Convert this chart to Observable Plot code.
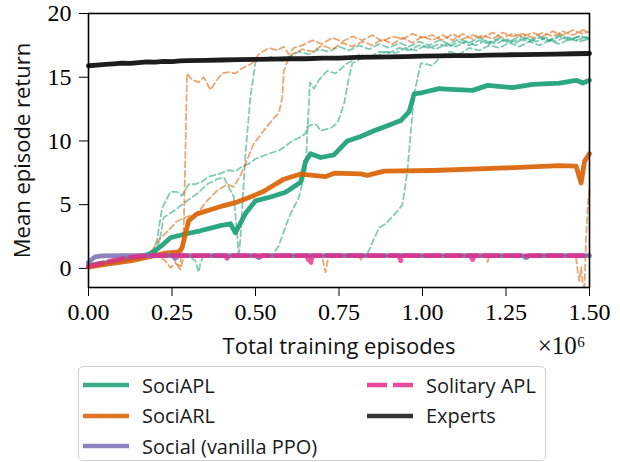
<!DOCTYPE html>
<html><head><meta charset="utf-8">
<script src="https://cdn.jsdelivr.net/npm/d3@7"></script>
<script src="https://cdn.jsdelivr.net/npm/@observablehq/plot@0.6"></script>
<style>
body{margin:0;background:#fff}
#wrap{position:relative;width:620px;height:462px;overflow:hidden;background:#fff}
#legend{position:absolute;left:78px;top:366px;width:466px;height:93px;border:1.5px solid #d2d2d2;border-radius:5px;background:#fff;font-family:"Open Sans",Lato,sans-serif;font-size:20px;color:#1a1a1a}
.item{position:absolute;height:24px;display:flex;align-items:center;white-space:nowrap}
.item span{margin-left:13px}
</style></head>
<body><div id="wrap"><div id="chart"></div><div id="legend"></div></div>
<script>
// ---- data (x in millions of episodes, y = mean episode return) ----
const xTicks = [0, 0.25, 0.5, 0.75, 1.0, 1.25, 1.5];
const yTicks = [0, 5, 10, 15, 20];
const seriesNames = ["SociAPL", "SociARL", "Social (vanilla PPO)", "Solitary APL", "Experts"];

const experts = [[0,15.9],[0.025,15.95],[0.05,16.0],[0.075,16.05],[0.1,16.1],[0.125,16.08],[0.15,16.15],[0.175,16.2],[0.2,16.18],[0.225,16.25],[0.25,16.22],[0.275,16.28],[0.3,16.3],[0.35,16.32],[0.4,16.35],[0.45,16.38],[0.5,16.4],[0.55,16.42],[0.6,16.45],[0.65,16.45],[0.7,16.5],[0.75,16.5],[0.8,16.55],[0.85,16.58],[0.9,16.6],[0.95,16.62],[1.0,16.65],[1.05,16.68],[1.1,16.7],[1.15,16.7],[1.2,16.74],[1.25,16.76],[1.3,16.78],[1.35,16.8],[1.4,16.82],[1.45,16.84],[1.5,16.86]];

const sociAPL = [[0,0.2],[0.03,0.35],[0.08,0.55],[0.12,0.75],[0.15,0.9],[0.18,1.1],[0.2,1.4],[0.22,1.8],[0.245,2.4],[0.29,2.7],[0.335,2.95],[0.395,3.35],[0.425,3.5],[0.44,2.8],[0.47,4.3],[0.5,5.3],[0.545,5.6],[0.59,5.97],[0.635,6.76],[0.65,8.4],[0.665,9.0],[0.695,8.7],[0.735,8.9],[0.775,10.0],[0.815,10.35],[0.855,10.8],[0.895,11.2],[0.935,11.6],[0.96,12.3],[0.975,13.7],[1.0,13.8],[1.05,14.1],[1.085,14.05],[1.15,13.97],[1.195,14.36],[1.27,14.18],[1.33,14.44],[1.41,14.54],[1.46,14.76],[1.48,14.54],[1.5,14.76]];

const sociARL = [[0,0.1],[0.06,0.35],[0.13,0.6],[0.19,0.95],[0.23,1.2],[0.27,1.3],[0.28,1.6],[0.3,3.75],[0.325,4.28],[0.365,4.6],[0.405,4.93],[0.445,5.2],[0.485,5.6],[0.525,6.05],[0.585,7.0],[0.635,7.4],[0.71,7.2],[0.735,7.47],[0.815,7.42],[0.835,7.3],[0.885,7.63],[1.03,7.68],[1.23,7.86],[1.41,8.07],[1.46,8.02],[1.475,6.7],[1.485,8.4],[1.5,9.0]];

const socialPPO = [[0,0.45],[0.01,0.7],[0.02,0.9],[0.04,0.98],[0.1,1.0],[0.25,1.0],[0.26,0.8],[0.27,1.0],[0.5,1.0],[0.51,0.85],[0.52,1.0],[1.3,1.0],[1.31,0.85],[1.32,1.0],[1.5,1.0]];

const solitaryAPL = [[0,0.15],[0.03,0.35],[0.06,0.55],[0.09,0.7],[0.12,0.85],[0.15,0.95],[0.18,1.0],[0.41,1.0],[0.415,0.8],[0.42,1.0],[0.655,1.0],[0.66,0.5],[0.665,0.35],[0.67,1.0],[0.93,1.0],[0.935,0.6],[0.94,1.0],[1.145,1.0],[1.15,0.7],[1.155,1.0],[1.5,1.0]];

// individual seeds (thin dashed)
const arlSeedA = [[0,0.1],[0.05,0.3],[0.1,0.55],[0.15,0.8],[0.2,1.1],[0.23,0.6],[0.245,0.05],[0.26,0.4],[0.275,0.2],[0.285,3],[0.29,9],[0.295,15.3],[0.31,14.8],[0.33,14.6],[0.345,15.0],[0.365,14.0],[0.385,14.8],[0.4,15.3],[0.42,15.4],[0.44,15.3],[0.46,15.7],[0.49,16.1],[0.51,16.8],[0.54,17.3],[0.565,17.1],[0.585,17.4],[0.6,16.8],[0.615,17.3],[0.64,17.5],[0.67,17.9],[0.7,17.6],[0.73,18.1],[0.76,17.8],[0.79,18.2],[0.82,17.9],[0.85,18.3],[0.88,17.8],[0.91,18.2],[0.94,18.0],[0.97,18.4],[1.0,18.1],[1.03,18.3],[1.06,17.9],[1.09,18.4],[1.12,18.0],[1.15,18.3],[1.18,18.1],[1.21,18.5],[1.24,18.1],[1.27,18.4],[1.3,18.2],[1.33,18.5],[1.36,18.2],[1.39,18.6],[1.42,18.3],[1.45,18.7],[1.48,18.4],[1.5,18.6]];
const arlSeedB = [[0,0.2],[0.05,0.35],[0.1,0.6],[0.15,0.85],[0.18,1.0],[0.21,2.2],[0.24,3.0],[0.265,3.7],[0.29,4.0],[0.325,4.3],[0.355,5.3],[0.385,6.1],[0.415,6.6],[0.435,6.4],[0.455,7.3],[0.47,8.2],[0.495,9.8],[0.525,10.8],[0.555,11.8],[0.57,12.2],[0.58,13.4],[0.585,15.5],[0.595,16.2],[0.61,16.8],[0.64,17.2],[0.67,17.0],[0.7,17.5],[0.73,17.2],[0.76,17.7],[0.79,17.4],[0.82,17.8],[0.85,17.5],[0.88,18.0],[0.91,17.6],[0.94,18.1],[0.97,17.7],[1.0,18.2],[1.03,17.9],[1.06,18.3],[1.09,17.9],[1.12,18.4],[1.15,18.0],[1.18,18.3],[1.21,18.0],[1.24,18.5],[1.27,18.2],[1.3,18.4],[1.33,18.1],[1.36,18.5],[1.39,18.2],[1.42,18.6],[1.45,18.3],[1.48,18.7],[1.5,18.5]];
const arlSeedC = [[0,0.1],[0.05,0.3],[0.1,0.55],[0.15,0.8],[0.2,0.95],[0.25,1.0],[0.265,0.3],[0.275,-0.1],[0.285,0.9],[0.3,1.0],[0.7,1.0],[0.705,0.2],[0.71,-0.3],[0.715,0.5],[0.72,1.0],[0.81,1.0],[0.815,0.6],[0.82,1.0],[1.19,1.0],[1.195,0.5],[1.2,1.0],[1.45,1.0],[1.46,0.8],[1.465,-0.3],[1.47,-1.0],[1.475,0.1],[1.48,-1.3],[1.485,-1.5],[1.49,2.5],[1.495,5.0],[1.5,6.2]];
const arlSeedD = [[0,0.1],[0.05,0.3],[0.1,0.55],[0.15,0.8],[0.2,0.95],[0.25,1.0],[1.5,1.0]];
const arlSeedE = [[0,0.1],[0.05,0.3],[0.1,0.55],[0.15,0.8],[0.2,0.95],[0.25,1.0],[1.5,1.0]];

const aplSeedA = [[0,0.2],[0.05,0.35],[0.1,0.55],[0.15,0.8],[0.19,1.0],[0.205,2.2],[0.22,4.7],[0.245,6.0],[0.265,6.0],[0.28,5.7],[0.3,6.6],[0.32,6.6],[0.34,6.8],[0.36,7.2],[0.39,7.4],[0.42,7.7],[0.44,7.6],[0.46,8.0],[0.48,8.2],[0.5,8.6],[0.52,8.8],[0.54,9.0],[0.57,9.25],[0.585,9.5],[0.61,10.0],[0.635,10.3],[0.65,10.6],[0.655,11.1],[0.675,11.35],[0.685,11.2],[0.695,10.8],[0.725,11.0],[0.745,11.4],[0.765,12.9],[0.78,15.0],[0.79,16.1],[0.805,16.3],[0.83,16.7],[0.86,16.6],[0.89,17.0],[0.92,16.9],[0.95,17.3],[0.98,17.1],[1.01,17.5],[1.04,17.2],[1.07,17.6],[1.1,17.4],[1.13,17.8],[1.16,17.5],[1.19,17.9],[1.22,17.6],[1.25,18.0],[1.28,17.7],[1.31,18.1],[1.34,17.8],[1.37,18.1],[1.4,17.8],[1.43,18.2],[1.46,17.9],[1.49,18.1],[1.5,17.9]];
const aplSeedB = [[0,0.2],[0.05,0.35],[0.1,0.6],[0.15,0.85],[0.2,1.0],[0.215,2.5],[0.225,4.0],[0.255,4.5],[0.295,5.3],[0.325,5.85],[0.355,6.6],[0.385,7.0],[0.405,7.15],[0.435,5.6],[0.445,2.7],[0.45,0.8],[0.455,2.5],[0.47,9.0],[0.485,13.5],[0.5,16.2],[0.52,16.4],[0.545,16.6],[0.58,16.3],[0.6,16.6],[0.63,17.0],[0.66,16.8],[0.69,17.2],[0.72,17.0],[0.75,17.4],[0.78,17.1],[0.81,17.5],[0.84,17.2],[0.87,17.6],[0.9,17.3],[0.93,17.7],[0.96,17.4],[0.99,17.8],[1.02,17.5],[1.05,17.9],[1.08,17.6],[1.11,18.0],[1.14,17.7],[1.17,18.1],[1.2,17.7],[1.23,18.1],[1.26,17.8],[1.29,18.2],[1.32,17.9],[1.35,18.2],[1.38,17.9],[1.41,18.3],[1.44,18.0],[1.47,18.2],[1.5,18.1]];
const aplSeedC = [[0,0.2],[0.05,0.35],[0.1,0.6],[0.15,0.85],[0.2,1.0],[0.3,1.0],[0.32,0.6],[0.33,-0.3],[0.335,0.4],[0.345,1.0],[0.83,1.0],[0.835,1.15],[0.87,3.2],[0.89,3.5],[0.925,4.5],[0.94,5.0],[0.955,7.7],[0.975,13.7],[0.995,16.1],[1.015,16.0],[1.03,15.9],[1.05,16.5],[1.08,17.0],[1.11,16.8],[1.14,17.3],[1.17,17.1],[1.2,17.5],[1.23,17.3],[1.26,17.7],[1.29,17.4],[1.32,17.8],[1.35,17.5],[1.38,17.9],[1.41,17.6],[1.44,18.0],[1.47,17.8],[1.5,18.0]];
const aplSeedD = [[0,0.2],[0.05,0.35],[0.1,0.6],[0.15,0.85],[0.2,1.0],[0.55,1.0],[0.57,1.8],[0.6,4.0],[0.63,5.6],[0.65,7.7],[0.657,11.5],[0.663,14.6],[0.675,14.1],[0.69,14.8],[0.715,15.5],[0.74,15.3],[0.775,16.1],[0.79,16.3],[0.81,16.8],[0.84,16.5],[0.87,17.0],[0.9,16.9],[0.93,17.3],[0.96,17.1],[0.99,17.5],[1.02,17.3],[1.05,17.6],[1.08,17.4],[1.11,17.8],[1.14,17.5],[1.17,17.9],[1.2,17.6],[1.23,18.0],[1.26,17.7],[1.29,18.0],[1.32,17.8],[1.35,18.1],[1.38,17.8],[1.41,18.2],[1.44,17.9],[1.47,18.2],[1.5,18.0]];
const aplSeedE = [[0,0.2],[0.05,0.35],[0.1,0.6],[0.15,0.85],[0.2,1.0],[1.5,1.0]];

const colors = {green:"#1b9e77", orange:"#d95f02", purple:"#7570b3", pink:"#e7298a", black:"#111111"};

// ---- chart ----
const X = d => d[0], Y = d => d[1];
const sans = "'Open Sans', Lato, sans-serif";
const serif = "'Liberation Serif', 'DejaVu Serif', serif";
const seed = (data, c) => Plot.line(data, {x: X, y: Y, stroke: c, strokeWidth: 1.8, strokeOpacity: 0.55, strokeDasharray: "6,3.5"});

const chart = Plot.plot({
  width: 620, height: 364,
  marginLeft: 88, marginRight: 31, marginTop: 13, marginBottom: 77,
  style: {fontFamily: serif, fontSize: "24px", color: "#000", background: "#fff"},
  x: {domain: [0, 1.5], ticks: xTicks, tickFormat: d3.format(".2f"), tickSize: 9, tickPadding: 6, label: null},
  y: {domain: [-1.5, 20], ticks: yTicks, tickSize: 9, tickPadding: 8, label: null},
  marks: [
    seed(aplSeedE, colors.green), seed(arlSeedD, colors.orange), seed(arlSeedE, colors.orange),
    seed(aplSeedA, colors.green), seed(aplSeedB, colors.green), seed(aplSeedC, colors.green), seed(aplSeedD, colors.green),
    seed(arlSeedA, colors.orange), seed(arlSeedB, colors.orange), seed(arlSeedC, colors.orange),
    Plot.line(sociAPL, {x: X, y: Y, stroke: colors.green, strokeWidth: 4.8, strokeOpacity: 0.92}),
    Plot.line(sociARL, {x: X, y: Y, stroke: colors.orange, strokeWidth: 4.8, strokeOpacity: 0.9}),
    Plot.line(socialPPO, {x: X, y: Y, stroke: colors.purple, strokeWidth: 4.8, strokeOpacity: 0.85}),
    Plot.line(solitaryAPL, {x: X, y: Y, stroke: colors.pink, strokeWidth: 4.8, strokeOpacity: 0.8, strokeDasharray: "14.8,6.4"}),
    Plot.line(experts, {x: X, y: Y, stroke: colors.black, strokeWidth: 4.8, strokeOpacity: 0.95}),
    Plot.frame({stroke: "#000", strokeWidth: 1.6}),
    Plot.text(["Total training episodes"], {frameAnchor: "bottom", dy: 66, textAnchor: "middle", text: d => d, fontFamily: sans, fontSize: 22, fill: "#111"}),
    Plot.text(["×10⁶"], {frameAnchor: "bottom-right", dx: -4, dy: 66, textAnchor: "end", text: d => d, fontFamily: serif, fontSize: 25, fill: "#111"}),
    Plot.text(["Mean episode return"], {frameAnchor: "left", dx: -66, rotate: -90, textAnchor: "middle", text: d => d, fontFamily: sans, fontSize: 22, fill: "#111"})
  ]
});
document.getElementById("chart").appendChild(chart);

// ---- legend ----
const legendItems = [
  {name: seriesNames[0], color: colors.green, dash: null, left: 4, top: 6},
  {name: seriesNames[1], color: colors.orange, dash: null, left: 4, top: 36.5},
  {name: seriesNames[2], color: colors.purple, dash: null, left: 4, top: 67},
  {name: seriesNames[3], color: colors.pink, dash: "20,6", left: 288, top: 6},
  {name: seriesNames[4], color: colors.black, dash: null, left: 288, top: 36.5}
];
const legend = document.getElementById("legend");
for (const it of legendItems) {
  const div = document.createElement("div");
  div.className = "item";
  div.style.left = it.left + "px";
  div.style.top = it.top + "px";
  div.innerHTML = `<svg width="46" height="10"><line x1="0" y1="5" x2="46" y2="5" stroke="${it.color}" stroke-width="4.5" stroke-opacity="0.85" ${it.dash ? `stroke-dasharray="${it.dash}"` : ""}/></svg><span>${it.name}</span>`;
  legend.appendChild(div);
}
</script></body></html>
